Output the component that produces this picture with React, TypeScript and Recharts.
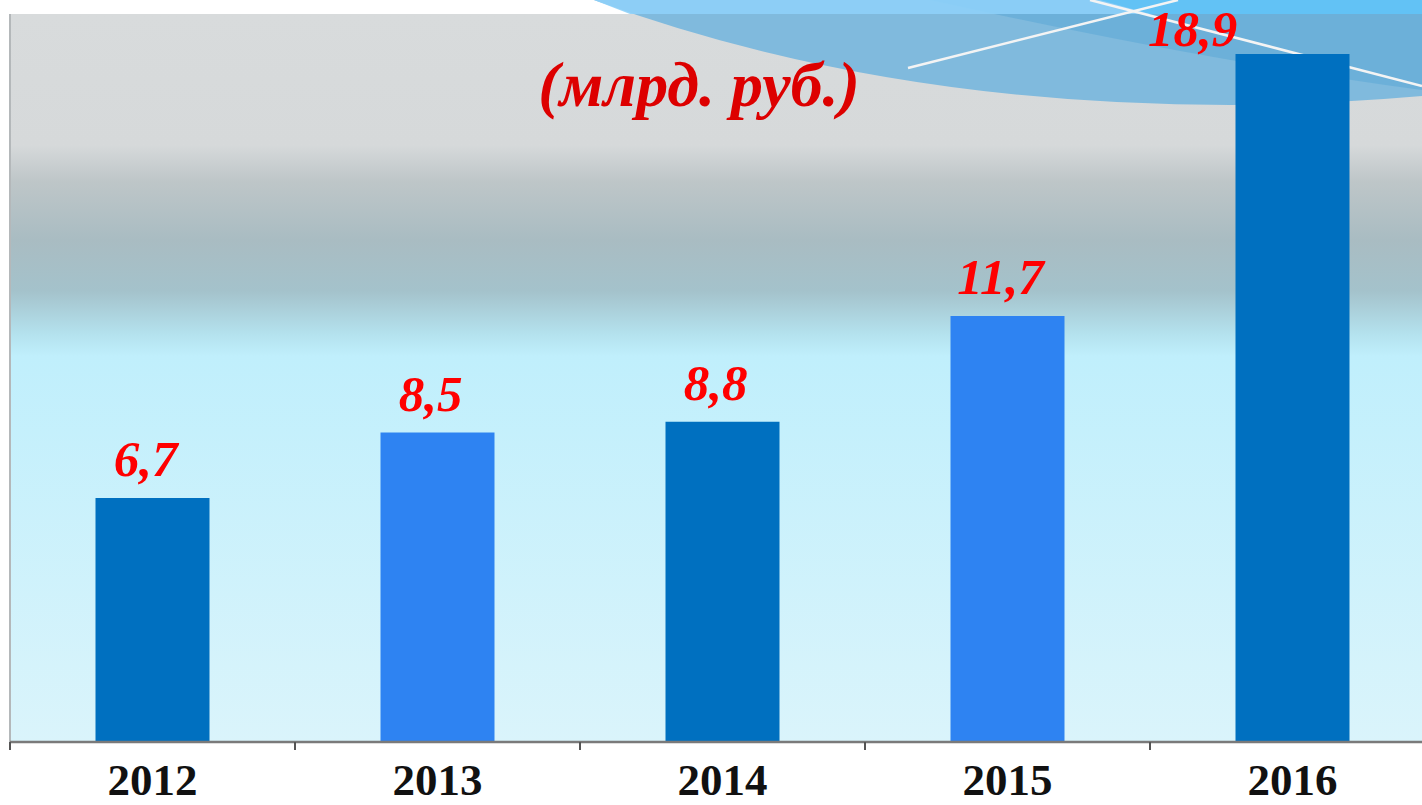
import { BarChart, Bar, XAxis, YAxis, Cell, LabelList } from "recharts";

const years = ["2012", "2013", "2014", "2015", "2016"];
const amounts = [6.7, 8.5, 8.8, 11.7, 18.9];
const yDomain = [0, 20];
const unitTitle = "(млрд. руб.)";

const DARK = "#0070c0";
const LIGHT = "#2e83f2";
const SERIF = '"Liberation Serif", "Times New Roman", serif';

const W = 1440;
const H = 805;
const AXIS_H = 30;
const M = { top: 14, right: 5, left: 10, bottom: 33 };
const BAND = (W - M.left - M.right) / years.length;
const PLOT_BOTTOM = H - M.bottom - AXIS_H;

const data = years.map((year, i) => ({ year, amount: amounts[i] }));

function YearTick(props: any) {
  const { x, y, payload, index } = props;
  const left = x - BAND / 2;
  return (
    <g>
      <line x1={left} y1={y - 8} x2={left} y2={y} stroke="#555" strokeWidth={2} />
      {index === years.length - 1 && (
        <line x1={x + BAND / 2} y1={y - 8} x2={x + BAND / 2} y2={y} stroke="#555" strokeWidth={2} />
      )}
      <text
        x={x}
        y={y + 45}
        textAnchor="middle"
        fontFamily={SERIF}
        fontWeight="bold"
        fontSize={45}
        fill="#111"
      >
        {payload.value}
      </text>
    </g>
  );
}

function ValueLabel(props: any) {
  const { x, y, width, value } = props;
  const text = Number(value).toFixed(1).replace(".", ",");
  // the tallest bar has no room above it, so its label sits to the left
  const nearTop = y < M.top + 60;
  const cx = nearTop ? x - 43 : x + width / 2 - 7;
  const cy = nearTop ? y - 8 : y - 22;
  return (
    <text
      x={cx}
      y={cy}
      textAnchor="middle"
      fontFamily={SERIF}
      fontWeight="bold"
      fontStyle="italic"
      fontSize={51}
      fill="#ff0000"
    >
      {text}
    </text>
  );
}

function Backdrop() {
  return (
    <svg width={W} height={H} style={{ position: "absolute", left: 0, top: 0 }}>
      <defs>
        <linearGradient id="bg" x1="0" y1={M.top} x2="0" y2={PLOT_BOTTOM} gradientUnits="userSpaceOnUse">
          <stop offset="0" stopColor="#d8dbdc" />
          <stop offset="0.18" stopColor="#d6d9da" />
          <stop offset="0.23" stopColor="#bec6c8" />
          <stop offset="0.31" stopColor="#a9bcc2" />
          <stop offset="0.38" stopColor="#a4c2cb" />
          <stop offset="0.44" stopColor="#b4e2ee" />
          <stop offset="0.47" stopColor="#c0effc" />
          <stop offset="1" stopColor="#daf4fb" />
        </linearGradient>
      </defs>
      <rect x={M.left} y={M.top} width={W - M.left} height={PLOT_BOTTOM - M.top} fill="url(#bg)" />
      <line x1={M.left} y1={M.top} x2={M.left} y2={PLOT_BOTTOM} stroke="#b4b8ba" strokeWidth={2} />
      <path d="M 594 0 Q 880 105 1230 105 Q 1330 104 1422 96 L 1422 0 Z" fill="#80badd" />
      <path d="M 930 0 L 1422 0 L 1422 90 Q 1200 60 930 0 Z" fill="#66aed8" opacity={0.8} />
      <path d="M 594 0 L 1422 0 L 1422 14 L 630 14 Z" fill="#8ed0f8" opacity={0.9} />
      <path d="M 1100 0 L 1422 0 L 1422 14 L 1150 14 Z" fill="#62c2f5" />
      <line x1={908} y1={68} x2={1178} y2={0} stroke="#f4f4f4" strokeWidth={2.5} />
      <line x1={1090} y1={0} x2={1422} y2={86} stroke="#f4f4f4" strokeWidth={2.5} />
      <text
        x={699}
        y={106}
        textAnchor="middle"
        fontFamily={SERIF}
        fontWeight="bold"
        fontStyle="italic"
        fontSize={64}
        fill="#dd0000"
      >
        {unitTitle}
      </text>
    </svg>
  );
}

export default function App() {
  return (
    <div
      style={{
        position: "fixed",
        left: 0,
        top: 0,
        width: 1422,
        height: 805,
        overflow: "hidden",
        background: "#fff",
      }}
    >
      <Backdrop />
      <div style={{ position: "absolute", left: 0, top: 0 }}>
        <BarChart width={W} height={H} data={data} margin={M} barCategoryGap="30%">
          <XAxis
            dataKey="year"
            height={AXIS_H}
            axisLine={{ stroke: "#7a7a7a", strokeWidth: 2.5 }}
            tickLine={false}
            tick={<YearTick />}
            interval={0}
          />
          <YAxis hide domain={yDomain} />
          <Bar dataKey="amount" isAnimationActive={false}>
            {data.map((d, i) => (
              <Cell key={d.year} fill={i % 2 === 0 ? DARK : LIGHT} />
            ))}
            <LabelList dataKey="amount" content={<ValueLabel />} />
          </Bar>
        </BarChart>
      </div>
    </div>
  );
}
